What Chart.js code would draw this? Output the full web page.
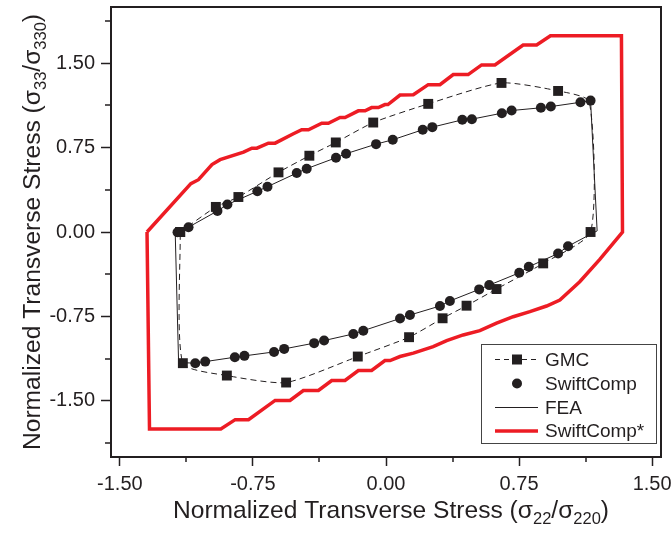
<!DOCTYPE html>
<html>
<head>
<meta charset="utf-8">
<script src="https://cdn.jsdelivr.net/npm/chart.js@4.4.1/dist/chart.umd.min.js"></script>
<style>
  html, body { margin: 0; padding: 0; background: #fff; }
  #wrap { width: 671px; height: 539px; }
</style>
</head>
<body>
<div id="wrap"><canvas id="chart" width="671" height="539"></canvas></div>
<script>
// Achsen-Ticks
const xTicks = [-1.5, -1.125, -0.75, -0.375, 0, 0.375, 0.75, 1.125, 1.5];
const yTicks = [-1.875, -1.5, -1.125, -0.75, -0.375, 0, 0.375, 0.75, 1.125, 1.5, 1.875];

// GMC (Quadrate, gestrichelt)
const gmcX = [-1.160, -0.959, -0.832, -0.606, -0.432, -0.283, -0.072, 0.238, 0.651, 0.970, 1.145, 1.153,
  0.886, 0.623, 0.454, 0.319, 0.130, -0.159, -0.563, -0.897, -1.145, -1.160];
const gmcY = [0.000, 0.223, 0.311, 0.530, 0.678, 0.796, 0.973, 1.139, 1.325, 1.254, 1.160, 0.000,
  -0.279, -0.507, -0.655, -0.767, -0.935, -1.107, -1.338, -1.276, -1.166, 0.000];
// Punkte ohne sichtbares Symbol (Ecke oben rechts)
const gmcNoMarker = [10];

// SwiftComp (Kreise)
const scX = [-1.175, -1.113, -0.950, -0.894, -0.725, -0.668, -0.503, -0.447, -0.282, -0.225, -0.056, 0.038,
  0.207, 0.261, 0.430, 0.484, 0.653, 0.708, 0.873, 0.929, 1.096, 1.153,
  1.026, 0.970, 0.805, 0.751, 0.582, 0.525, 0.360, 0.304, 0.135, 0.079, -0.128, -0.184,
  -0.349, -0.405, -0.574, -0.631, -0.798, -0.852, -1.019, -1.075];
const scY = [-0.002, 0.043, 0.187, 0.244, 0.362, 0.403, 0.524, 0.563, 0.660, 0.696, 0.781, 0.820,
  0.909, 0.932, 0.997, 1.003, 1.056, 1.080, 1.104, 1.115, 1.153, 1.168,
  -0.126, -0.191, -0.309, -0.363, -0.472, -0.510, -0.613, -0.658, -0.738, -0.769, -0.877, -0.906,
  -0.965, -0.988, -1.039, -1.066, -1.101, -1.113, -1.152, -1.166];

// FEA (duenne Linie)
const feaX = [-1.188, -1.113, -0.950, -0.894, -0.725, -0.668, -0.503, -0.447, -0.282, -0.225, -0.056, 0.038,
  0.207, 0.261, 0.430, 0.484, 0.653, 0.708, 0.873, 0.929, 1.096, 1.153, 1.190,
  1.026, 0.970, 0.805, 0.751, 0.582, 0.525, 0.360, 0.304, 0.135, 0.079, -0.128, -0.184,
  -0.349, -0.405, -0.574, -0.631, -0.798, -0.852, -1.019, -1.075, -1.169, -1.188];
const feaY = [-0.010, 0.043, 0.187, 0.244, 0.362, 0.403, 0.524, 0.563, 0.660, 0.696, 0.781, 0.820,
  0.909, 0.932, 0.997, 1.003, 1.056, 1.080, 1.104, 1.115, 1.153, 1.168, 0.010,
  -0.126, -0.191, -0.309, -0.363, -0.472, -0.510, -0.613, -0.658, -0.738, -0.769, -0.877, -0.906,
  -0.965, -0.988, -1.039, -1.066, -1.101, -1.113, -1.152, -1.166, -1.160, -0.010];

// SwiftComp* (rote Huellkurve)
const redX = [-1.347, -1.100, -1.057, -0.981, -0.935, -0.803, -0.756, -0.728, -0.663, -0.625, -0.522, -0.475,
  -0.437, -0.362, -0.325, -0.259, -0.231, -0.156, -0.118, -0.081, -0.043, -0.006, 0.011, 0.079, 0.154,
  0.238, 0.304, 0.379, 0.463, 0.539, 0.614, 0.773, 0.849, 0.927, 1.327, 1.333,
  1.205, 1.092, 0.980, 0.905, 0.811, 0.717, 0.623, 0.529, 0.435, 0.342, 0.266, 0.154, 0.079, 0.023,
  -0.006, -0.081, -0.156, -0.231, -0.306, -0.381, -0.466, -0.541, -0.625, -0.775, -0.850, -0.931,
  -1.333, -1.347];
const redY = [0.000, 0.430, 0.465, 0.600, 0.643, 0.710, 0.745, 0.745, 0.790, 0.790, 0.873, 0.909,
  0.909, 0.967, 0.967, 1.018, 1.018, 1.077, 1.077, 1.106, 1.106, 1.133, 1.133, 1.217, 1.220,
  1.310, 1.310, 1.399, 1.399, 1.485, 1.485, 1.662, 1.662, 1.745, 1.745, 0.000,
  -0.244, -0.442, -0.605, -0.658, -0.708, -0.753, -0.811, -0.877, -0.915, -0.965, -1.019, -1.077, -1.107, -1.143,
  -1.143, -1.231, -1.231, -1.320, -1.320, -1.409, -1.409, -1.497, -1.497, -1.668, -1.668, -1.751,
  -1.751, 0.000];

const seriesNames = ['GMC', 'SwiftComp', 'FEA', 'SwiftComp*'];
const xTitle = [['Normalized Transverse Stress (\u03c3', 0], ['22', 1], ['/\u03c3', 0], ['220', 1], [')', 0]];
const yTitle = [['Normalized Transverse Stress (\u03c3', 0], ['33', 1], ['/\u03c3', 0], ['330', 1], [')', 0]];

const INK = '#231f20';
const RED = '#ed1c24';
const FONT = '"Liberation Sans", Arial, sans-serif';

const pts = (xs, ys) => xs.map((x, i) => ({ x: x, y: ys[i] }));
const isMajor = (v) => Math.abs(v / 0.75 - Math.round(v / 0.75)) < 1e-6;
const noPad = (s) => { s.paddingLeft = 0; s.paddingRight = 0; s.paddingTop = 0; s.paddingBottom = 0; };

function drawRich(ctx, parts, cx, cy) {
  const big = 24.6, small = 16.5;
  let w = 0;
  parts.forEach(([t, sub]) => { ctx.font = (sub ? small : big) + 'px ' + FONT; w += ctx.measureText(t).width; });
  let x = cx - w / 2;
  parts.forEach(([t, sub]) => {
    ctx.font = (sub ? small : big) + 'px ' + FONT;
    ctx.fillText(t, x, cy + (sub ? 6 : 0));
    x += ctx.measureText(t).width;
  });
}

const extras = {
  id: 'extras',
  afterDraw(chart) {
    const ctx = chart.ctx;
    const ca = chart.chartArea;
    const sx = chart.scales.x, sy = chart.scales.y;
    ctx.save();
    ctx.strokeStyle = INK;
    // Rahmen oben/rechts
    ctx.lineWidth = 2;
    ctx.beginPath();
    ctx.moveTo(ca.left, ca.top); ctx.lineTo(ca.right, ca.top); ctx.lineTo(ca.right, ca.bottom);
    ctx.stroke();
    // Minor ticks
    ctx.lineWidth = 1.5;
    ctx.beginPath();
    xTicks.filter(v => !isMajor(v)).forEach(v => {
      const p = Math.round(sx.getPixelForValue(v));
      ctx.moveTo(p, ca.bottom); ctx.lineTo(p, ca.bottom + 5);
    });
    yTicks.filter(v => !isMajor(v)).forEach(v => {
      const p = Math.round(sy.getPixelForValue(v));
      ctx.moveTo(ca.left - 6, p); ctx.lineTo(ca.left, p);
    });
    ctx.stroke();

    // Achsentitel
    ctx.fillStyle = INK;
    ctx.textAlign = 'left';
    ctx.textBaseline = 'alphabetic';
    drawRich(ctx, xTitle, (ca.left + ca.right) / 2 + 5, 518);
    ctx.save();
    ctx.translate(40, (ca.top + ca.bottom) / 2);
    ctx.rotate(-Math.PI / 2);
    drawRich(ctx, yTitle, 0, 0);
    ctx.restore();

    // Legende
    const bx = ca.right - 180, by = ca.bottom - 113, bw = 175, bh = 99;
    ctx.fillStyle = '#fff';
    ctx.fillRect(bx, by, bw, bh);
    ctx.strokeStyle = '#444';
    ctx.lineWidth = 1;
    ctx.strokeRect(bx + 0.5, by + 0.5, bw, bh);
    const rows = [15.5, 39.5, 63.5, 87];
    const ix0 = bx + 14, ix1 = bx + 57, im = bx + 36;
    ctx.strokeStyle = INK;
    ctx.fillStyle = INK;
    // GMC
    ctx.lineWidth = 1;
    ctx.setLineDash([5, 4]);
    ctx.beginPath(); ctx.moveTo(ix0, by + rows[0]); ctx.lineTo(ix1, by + rows[0]); ctx.stroke();
    ctx.setLineDash([]);
    ctx.fillRect(im - 5, by + rows[0] - 5, 10, 10);
    // SwiftComp
    ctx.beginPath(); ctx.arc(im, by + rows[1], 5, 0, Math.PI * 2); ctx.fill();
    // FEA
    ctx.beginPath(); ctx.moveTo(ix0, by + rows[2]); ctx.lineTo(ix1, by + rows[2]); ctx.stroke();
    // SwiftComp*
    ctx.strokeStyle = RED;
    ctx.lineWidth = 3.5;
    ctx.beginPath(); ctx.moveTo(ix0, by + rows[3]); ctx.lineTo(ix1, by + rows[3]); ctx.stroke();
    ctx.fillStyle = INK;
    ctx.font = '19px ' + FONT;
    ctx.textBaseline = 'middle';
    seriesNames.forEach((n, i) => ctx.fillText(n, bx + 64, by + rows[i] + 1));
    ctx.restore();
  }
};

new Chart(document.getElementById('chart').getContext('2d'), {
  type: 'scatter',
  data: {
    datasets: [
      {
        label: seriesNames[1], data: pts(scX, scY), showLine: false, order: 0,
        pointStyle: 'circle', pointRadius: 5, pointBackgroundColor: INK, pointBorderWidth: 0
      },
      {
        label: seriesNames[0], data: pts(gmcX, gmcY), showLine: true, order: 1,
        borderColor: INK, borderWidth: 1, borderDash: [6, 4], tension: 0.2,
        pointStyle: 'rect', pointBackgroundColor: INK, pointBorderWidth: 0,
        pointRadius: (c) => gmcNoMarker.includes(c.dataIndex) ? 0 : 7
      },
      {
        label: seriesNames[2], data: pts(feaX, feaY), showLine: true, order: 2,
        borderColor: INK, borderWidth: 1, tension: 0, pointRadius: 0
      },
      {
        label: seriesNames[3], data: pts(redX, redY), showLine: true, order: 3,
        borderColor: RED, borderWidth: 3.5, tension: 0, pointRadius: 0, borderJoinStyle: 'miter'
      }
    ]
  },
  options: {
    responsive: false,
    animation: false,
    events: [],
    layout: { autoPadding: false, padding: { left: 0, top: 7, right: 10, bottom: 0 } },
    plugins: { legend: { display: false }, tooltip: { enabled: false } },
    scales: {
      x: {
        type: 'linear', min: -1.55, max: 1.55,
        afterBuildTicks: (s) => { s.ticks = xTicks.map(v => ({ value: v })); },
        afterFit: (s) => { s.height = 82; noPad(s); },
        border: { display: true, color: INK, width: 2 },
        grid: {
          drawOnChartArea: false, drawTicks: true, tickLength: 9, tickWidth: 1.5,
          tickColor: (c) => (c.tick && isMajor(c.tick.value)) ? INK : 'rgba(0,0,0,0)'
        },
        ticks: {
          color: INK, padding: 6, maxRotation: 0, autoSkip: false,
          font: { family: FONT, size: 20 },
          callback: (v) => isMajor(v) ? v.toFixed(2) : ''
        }
      },
      y: {
        type: 'linear', min: -2, max: 2,
        afterBuildTicks: (s) => { s.ticks = yTicks.map(v => ({ value: v })); },
        afterFit: (s) => { s.width = 111; noPad(s); },
        border: { display: true, color: INK, width: 2 },
        grid: {
          drawOnChartArea: false, drawTicks: true, tickLength: 10, tickWidth: 1.5,
          tickColor: (c) => (c.tick && isMajor(c.tick.value)) ? INK : 'rgba(0,0,0,0)'
        },
        ticks: {
          color: INK, padding: 6, autoSkip: false,
          font: { family: FONT, size: 20 },
          callback: (v) => isMajor(v) ? v.toFixed(2) : ''
        }
      }
    }
  },
  plugins: [extras]
});
</script>
</body>
</html>
